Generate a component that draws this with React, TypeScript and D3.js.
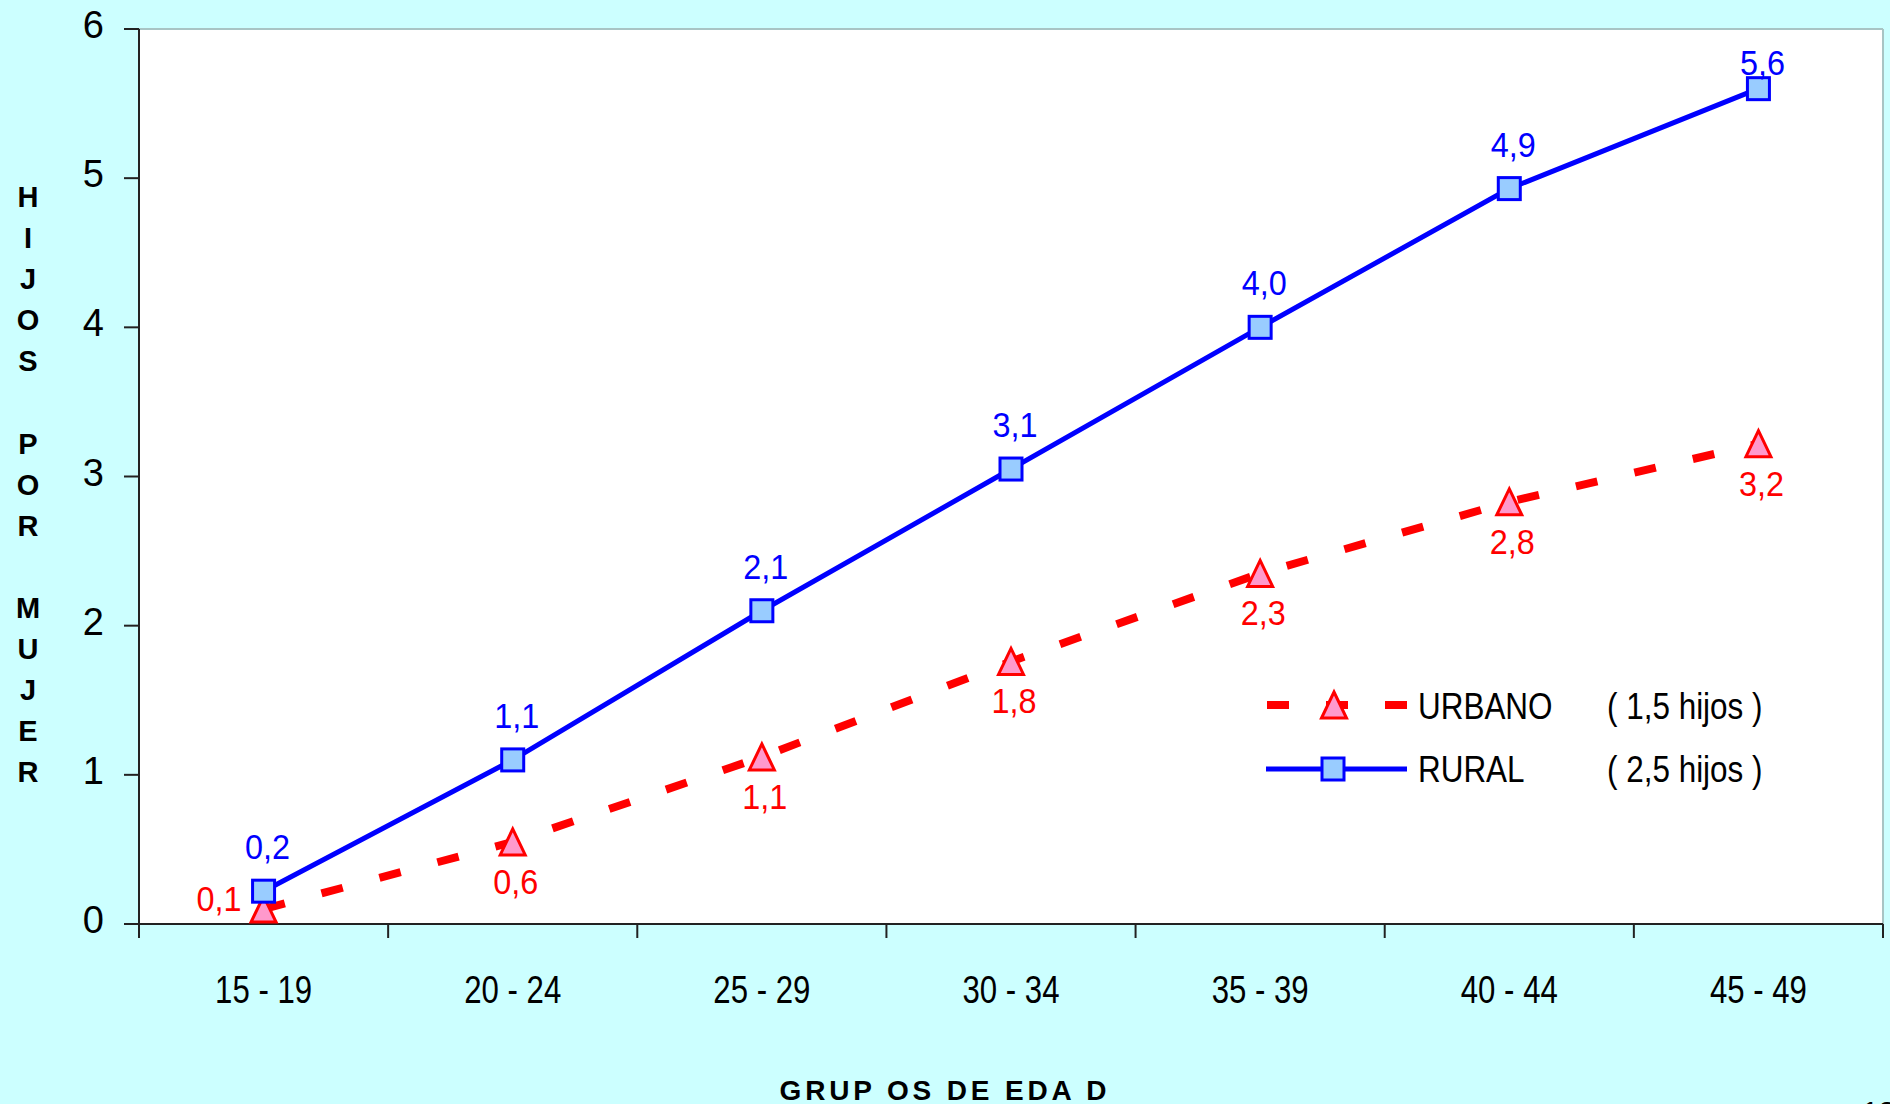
import React from "react";
import * as d3 from "d3";

const categories = ["15 - 19", "20 - 24", "25 - 29", "30 - 34", "35 - 39", "40 - 44", "45 - 49"];
const ruralValues = [0.22, 1.1, 2.1, 3.05, 4.0, 4.93, 5.6];
const ruralLabels = ["0,2", "1,1", "2,1", "3,1", "4,0", "4,9", "5,6"];
const urbanValues = [0.1, 0.55, 1.12, 1.76, 2.35, 2.83, 3.22];
const urbanLabels = ["0,1", "0,6", "1,1", "1,8", "2,3", "2,8", "3,2"];
const yTicks = [0, 1, 2, 3, 4, 5, 6];
const legendNames = ["URBANO", "RURAL"];
const legendNotes = ["( 1,5 hijos )", "( 2,5 hijos )"];
const yTitle = "HIJOS POR MUJER";
const xTitle = "GRUP OS DE EDA D";

const W = 1890;
const H = 1104;
const L = 139;
const R = 1883;
const T = 29;
const B = 924;
const FONT = "'Liberation Sans', Arial, sans-serif";
const BG = "#CCFFFF";
const BLUE = "#0000FF";
const RED = "#FF0000";

function Txt({ x, y, children, size = 37, fill = "#000", anchor = "start", sx = 1, weight = "normal", textLength }: any) {
  return (
    <text
      transform={`translate(${x},${y}) scale(${sx},1)`}
      fontFamily={FONT}
      fontSize={size}
      fill={fill}
      textAnchor={anchor}
      fontWeight={weight}
      textLength={textLength}
      lengthAdjust={textLength ? "spacingAndGlyphs" : undefined}
    >
      {children}
    </text>
  );
}

const triPath = "M0,-13L12.5,13L-12.5,13Z";

export default function App() {
  const x = d3.scaleBand<string>().domain(categories).range([L, R]).padding(0);
  const y = d3.scaleLinear().domain([0, 6]).range([B, T]);
  const cx = (c: string) => (x(c) as number) + x.bandwidth() / 2;
  const line = d3.line<number>().x((_, i) => cx(categories[i])).y((v) => y(v));
  const boundaries = categories.map((c) => x(c) as number).concat([R]);

  return (
    <div style={{ position: "fixed", left: 0, top: 0, width: W, height: H, background: BG, overflow: "hidden" }}>
      <svg width={W} height={H} style={{ display: "block" }}>
        <rect x={0} y={0} width={W} height={H} fill={BG} />
        <rect x={L} y={T} width={R - L} height={B - T} fill="#FFFFFF" />
        <line x1={L} x2={R} y1={T} y2={T} stroke="#A8C4C4" strokeWidth={2} />
        <line x1={R} x2={R} y1={T} y2={B} stroke="#A8C4C4" strokeWidth={2} />

        {/* y axis */}
        <line x1={L} x2={L} y1={T} y2={B + 14} stroke="#222" strokeWidth={2} />
        {yTicks.map((t) => (
          <g key={t}>
            <line x1={L - 15} x2={L} y1={y(t)} y2={y(t)} stroke="#222" strokeWidth={2} />
            <Txt x={104} y={y(t) + 9} size={38} anchor="end">{String(t)}</Txt>
          </g>
        ))}
        {/* x axis */}
        <line x1={L - 15} x2={R} y1={B} y2={B} stroke="#222" strokeWidth={2} />
        {boundaries.map((b, i) => (
          <line key={i} x1={b} x2={b} y1={B} y2={B + 14} stroke="#222" strokeWidth={2} />
        ))}
        {categories.map((c) => (
          <Txt key={c} x={cx(c)} y={1003} size={39} anchor="middle" textLength={97}>{c}</Txt>
        ))}

        {/* axis titles */}
        {yTitle.split("").map((ch, i) => (
          <Txt key={i} x={28} y={207 + i * 41.1} size={29} weight="bold" anchor="middle">{ch}</Txt>
        ))}
        <text x={943} y={1100} fontFamily={FONT} fontSize={28} fontWeight="bold" textAnchor="middle" textLength={327} lengthAdjust="spacing" fill="#000">{xTitle}</text>

        {/* urban */}
        <path d={line(urbanValues) || ""} fill="none" stroke={RED} strokeWidth={8} strokeDasharray="22,38" />
        {urbanValues.map((v, i) => (
          <path key={i} d={triPath} transform={`translate(${cx(categories[i])},${y(v)})`} fill="#FF99CC" stroke={RED} strokeWidth={3} />
        ))}

        {/* rural */}
        <path d={line(ruralValues) || ""} fill="none" stroke={BLUE} strokeWidth={5} />
        {ruralValues.map((v, i) => (
          <rect key={i} x={cx(categories[i]) - 11} y={y(v) - 11} width={22} height={22} fill="#99CCFF" stroke={BLUE} strokeWidth={3} />
        ))}

        {/* labels */}
        {urbanValues.map((v, i) => {
          const px = cx(categories[i]);
          const py = y(v);
          const below = py + 52 <= B;
          return below ? (
            <Txt key={i} x={px + 3} y={py + 52} size={36} sx={0.9} fill={RED} anchor="middle">{urbanLabels[i]}</Txt>
          ) : (
            <Txt key={i} x={px - 22} y={py + 2} size={36} sx={0.9} fill={RED} anchor="end">{urbanLabels[i]}</Txt>
          );
        })}
        {ruralValues.map((v, i) => (
          <Txt key={i} x={cx(categories[i]) + 4} y={Math.max(y(v) - 32, T + 46)} size={36} sx={0.9} fill={BLUE} anchor="middle">{ruralLabels[i]}</Txt>
        ))}

        {/* legend */}
        <line x1={1267} x2={1407} y1={705} y2={705} stroke={RED} strokeWidth={8} strokeDasharray="22,37" />
        <path d={triPath} transform="translate(1334,705)" fill="#FF99CC" stroke={RED} strokeWidth={3} />
        <line x1={1266} x2={1407} y1={769} y2={769} stroke={BLUE} strokeWidth={5} />
        <rect x={1333 - 11} y={769 - 11} width={22} height={22} fill="#99CCFF" stroke={BLUE} strokeWidth={3} />
        {legendNames.map((n, i) => (
          <g key={n}>
            <Txt x={1418} y={719 + i * 63} size={37} sx={0.85}>{n}</Txt>
            <Txt x={1607} y={719 + i * 63} size={37} sx={0.85}>{legendNotes[i]}</Txt>
          </g>
        ))}

        <Txt x={1862} y={1122} size={30}>13</Txt>
      </svg>
    </div>
  );
}
